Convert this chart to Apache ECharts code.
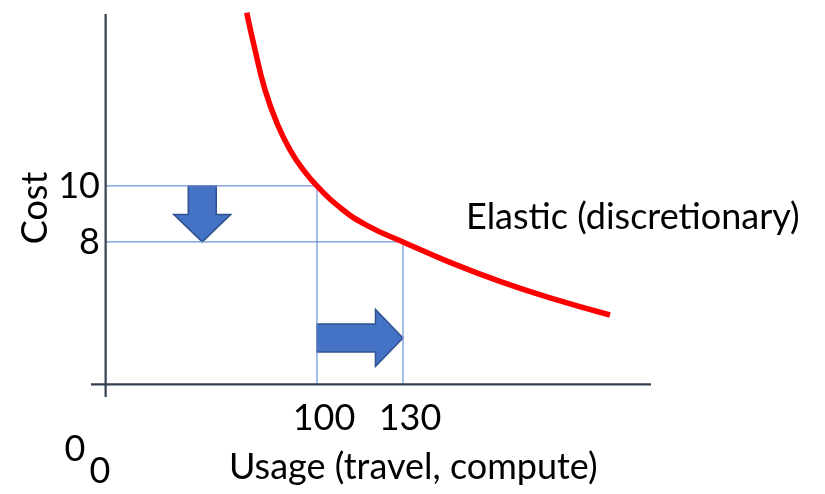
<!DOCTYPE html>
<html><head><meta charset="utf-8">
<script src="https://cdn.jsdelivr.net/npm/echarts@6/dist/echarts.min.js"></script>
<style>html,body{margin:0;padding:0;background:#fff}#c{width:825px;height:494px}</style>
</head><body><div id="c"></div>
<script>
// ---- data ----
const xTickValues = [100, 130];
const yTickValues = [8, 10];
const curveX = [75.5, 78.4, 81.9, 86.1, 90.6, 95.8, 100, 108.0, 117.4, 130, 146.4, 163.8, 181.3, 202.2];
const curveY = [16.19, 14.86, 13.43, 12.23, 11.29, 10.5, 10, 9.23, 8.59, 8, 7.27, 6.59, 6.0, 5.39];
const oldPoint = [100, 10];
const newPoint = [130, 8];
const axisOrigin = [26.3, 2.91];
const xRange = [21.2, 216.5];
const yRange = [2.46, 16.14];
const downArrow = [60, 10, 60, 8];
const rightArrow = [100, 4.57, 130, 4.57];
const curveLabel = 'Elastic (discretionary)';
const xTitle = 'Usage (travel, compute)';
const yTitle = 'Cost';
const originLabels = ['0', '0'];

const FONT = 'Lato';
const FS = 36;
const chart = echarts.init(document.getElementById('c'), null, {renderer: 'canvas'});

function arrowItem(params, api) {
  const p1 = api.coord([api.value(0), api.value(1)]);
  const p2 = api.coord([api.value(2), api.value(3)]);
  const dx = p2[0] - p1[0], dy = p2[1] - p1[1];
  const L = Math.sqrt(dx * dx + dy * dy);
  const ux = dx / L, uy = dy / L, nx = -uy, ny = ux;
  const sw = 14, hw = 28.5, hl = 27.5;
  const bx = p2[0] - ux * hl, by = p2[1] - uy * hl;
  const pts = [
    [p1[0] + nx * sw, p1[1] + ny * sw],
    [bx + nx * sw, by + ny * sw],
    [bx + nx * hw, by + ny * hw],
    [p2[0], p2[1]],
    [bx - nx * hw, by - ny * hw],
    [bx - nx * sw, by - ny * sw],
    [p1[0] - nx * sw, p1[1] - ny * sw]
  ];
  return {type: 'polygon', shape: {points: pts},
    style: {fill: '#4472C4', stroke: '#2F528F', lineWidth: 1.5}};
}

const guideStyle = {color: '#6F93D6', width: 1.2};
const axisStyle = {color: '#333F50', width: 2.2};
const txt = (s) => ({text: s, font: FS + 'px ' + FONT, fill: '#000'});

chart.setOption({
  animation: false,
  grid: {left: 91, top: 14, width: 560, height: 383},
  xAxis: {
    type: 'value', min: xRange[0], max: xRange[1],
    axisLine: {show: false}, axisTick: {show: false}, splitLine: {show: false},
    axisLabel: {customValues: xTickValues, fontFamily: FONT, fontSize: FS, color: '#000',
      margin: 3, padding: [0, 0, 0, 14]}
  },
  yAxis: {
    type: 'value', min: yRange[0], max: yRange[1],
    axisLine: {show: false}, axisTick: {show: false}, splitLine: {show: false},
    axisLabel: {customValues: yTickValues, fontFamily: FONT, fontSize: FS, color: '#000',
      margin: -9}
  },
  series: [
    {type: 'line', clip: false, symbol: 'none', silent: true, lineStyle: guideStyle,
      data: [[axisOrigin[0], oldPoint[1]], oldPoint, [oldPoint[0], axisOrigin[1]]]},
    {type: 'line', clip: false, symbol: 'none', silent: true, lineStyle: guideStyle,
      data: [[axisOrigin[0], newPoint[1]], newPoint, [newPoint[0], axisOrigin[1]]]},
    {type: 'line', clip: false, symbol: 'none', silent: true, lineStyle: axisStyle,
      data: [[xRange[0], axisOrigin[1]], [xRange[1], axisOrigin[1]]]},
    {type: 'line', clip: false, symbol: 'none', silent: true, lineStyle: axisStyle,
      data: [[axisOrigin[0], yRange[0]], [axisOrigin[0], yRange[1]]]},
    {type: 'custom', clip: false, renderItem: arrowItem, data: [downArrow, rightArrow], silent: true},
    {type: 'line', clip: false, symbol: 'none', smooth: 0.5, silent: true,
      lineStyle: {color: '#FF0000', width: 5.5},
      data: curveX.map((x, i) => [x, curveY[i]])}
  ],
  graphic: [
    {type: 'text', left: 466, top: 199, style: txt(curveLabel)},
    {type: 'text', left: 229, top: 449, style: txt(xTitle)},
    {type: 'text', x: 35, y: 208, rotation: Math.PI / 2,
      style: Object.assign(txt(yTitle), {align: 'center', verticalAlign: 'middle'})},
    {type: 'text', x: 75, y: 449, style: Object.assign(txt(originLabels[0]), {align: 'center', verticalAlign: 'middle'})},
    {type: 'text', x: 100, y: 471, style: Object.assign(txt(originLabels[1]), {align: 'center', verticalAlign: 'middle'})}
  ]
});
</script></body></html>
